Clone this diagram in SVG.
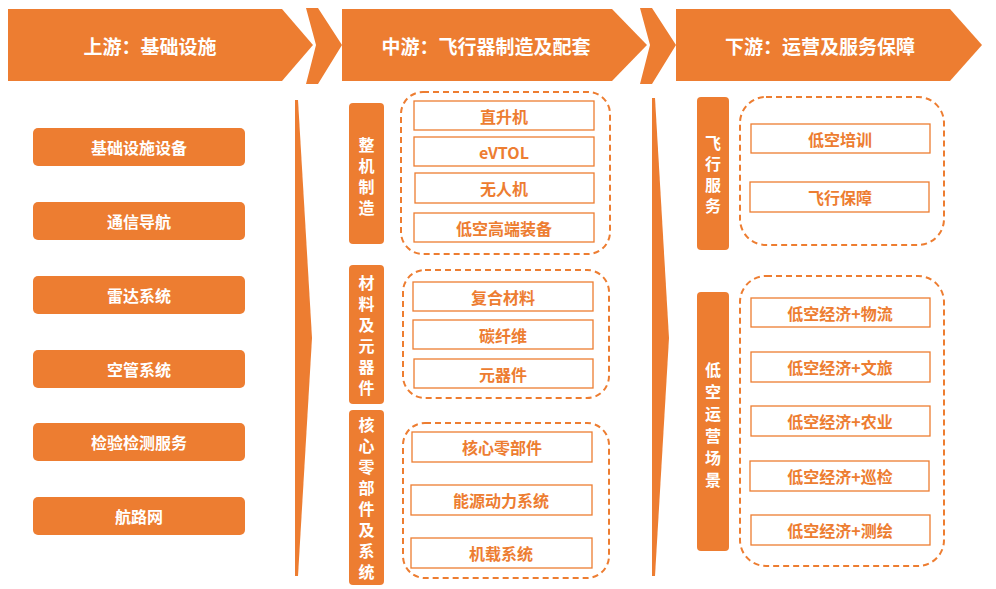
<svg xmlns="http://www.w3.org/2000/svg" width="996" height="589" viewBox="0 0 996 589">
<style>
text{font-family:"Noto Sans CJK SC","Liberation Sans",sans-serif;font-weight:bold;text-anchor:middle;dominant-baseline:central}
.f{fill:#ED7D31}
.hd{fill:#fff;font-size:19px}
.lb{fill:#fff;font-size:16px}
.it{fill:#fff;stroke:#ED7D31;stroke-width:1.3}
.it-t{fill:#ED7D31;font-size:16px}
.dash{fill:none;stroke:#ED7D31;stroke-width:2;stroke-dasharray:6 4}
</style>
<g id="headers">
<polygon class="f" points="8,9 282,9 313,45 282,81 8,81"/>
<text class="hd" x="150" y="45">上游：基础设施</text>
<polygon class="f" points="306,8 318,8 342,45 318,84 306,84 316,45"/>
<polygon class="f" points="342,9 612,9 647,45 612,81 342,81"/>
<text class="hd" x="486" y="45">中游：飞行器制造及配套</text>
<polygon class="f" points="640,8 652,8 676,45 652,84 640,84 650,45"/>
<polygon class="f" points="676,9 950,9 982,45 950,81 676,81"/>
<text class="hd" x="820" y="45">下游：运营及服务保障</text>
</g>
<g id="connectors">
<polygon class="f" points="295,100 298,100 312,338 298,576 295,576"/>
<polygon class="f" points="652,98 655,98 669,338 655,576 652,576"/>
</g>
<g id="upstream">
<g id="u1"><rect class="f" x="33" y="128" width="212" height="38" rx="5"/><text class="lb" x="139" y="147">基础设施设备</text></g>
<g id="u2"><rect class="f" x="33" y="202" width="212" height="38" rx="5"/><text class="lb" x="139" y="221">通信导航</text></g>
<g id="u3"><rect class="f" x="33" y="276" width="212" height="38" rx="5"/><text class="lb" x="139" y="295">雷达系统</text></g>
<g id="u4"><rect class="f" x="33" y="350" width="212" height="38" rx="5"/><text class="lb" x="139" y="369">空管系统</text></g>
<g id="u5"><rect class="f" x="33" y="423" width="212" height="38" rx="5"/><text class="lb" x="139" y="442">检验检测服务</text></g>
<g id="u6"><rect class="f" x="33" y="497" width="212" height="38" rx="5"/><text class="lb" x="139" y="516">航路网</text></g>
</g>
<g id="midstream">
<g id="m-whole">
<rect class="f" x="349" y="103" width="35" height="141" rx="4"/>
<text class="lb"><tspan x="366.5" y="144">整</tspan><tspan x="366.5" y="165">机</tspan><tspan x="366.5" y="186">制</tspan><tspan x="366.5" y="207">造</tspan></text>
<rect class="dash" x="401" y="92" width="209" height="162" rx="22"/>
<rect class="it" x="414" y="101" width="180" height="29"/><text class="it-t" x="504" y="115.5">直升机</text>
<rect class="it" x="414" y="137" width="180" height="29"/><text class="it-t" x="504" y="151.5">eVTOL</text>
<rect class="it" x="415" y="173" width="179" height="30"/><text class="it-t" x="504" y="188">无人机</text>
<rect class="it" x="414" y="213" width="180" height="29"/><text class="it-t" x="504" y="227.5">低空高端装备</text>
</g>
<g id="m-material">
<rect class="f" x="349" y="265" width="35" height="139" rx="4"/>
<text class="lb"><tspan x="366.5" y="282">材</tspan><tspan x="366.5" y="303">料</tspan><tspan x="366.5" y="324">及</tspan><tspan x="366.5" y="345">元</tspan><tspan x="366.5" y="366">器</tspan><tspan x="366.5" y="387">件</tspan></text>
<rect class="dash" x="403" y="270" width="206" height="128" rx="22"/>
<rect class="it" x="413" y="282" width="180" height="29"/><text class="it-t" x="503" y="296.5">复合材料</text>
<rect class="it" x="413" y="320" width="180" height="29"/><text class="it-t" x="503" y="334.5">碳纤维</text>
<rect class="it" x="414" y="359" width="179" height="29"/><text class="it-t" x="503" y="373.5">元器件</text>
</g>
<g id="m-core">
<rect class="f" x="349" y="410" width="35" height="175" rx="4"/>
<text class="lb"><tspan x="366.5" y="424">核</tspan><tspan x="366.5" y="445">心</tspan><tspan x="366.5" y="466">零</tspan><tspan x="366.5" y="487">部</tspan><tspan x="366.5" y="508">件</tspan><tspan x="366.5" y="529">及</tspan><tspan x="366.5" y="550">系</tspan><tspan x="366.5" y="571">统</tspan></text>
<rect class="dash" x="403" y="423" width="206" height="155" rx="22"/>
<rect class="it" x="412" y="432" width="180" height="30"/><text class="it-t" x="502" y="447">核心零部件</text>
<rect class="it" x="411" y="485" width="181" height="30"/><text class="it-t" x="501" y="500">能源动力系统</text>
<rect class="it" x="411" y="538" width="181" height="30"/><text class="it-t" x="501" y="553">机载系统</text>
</g>
</g>
<g id="downstream">
<g id="d-service">
<rect class="f" x="697" y="97" width="32" height="153" rx="4"/>
<text class="lb"><tspan x="713" y="142">飞</tspan><tspan x="713" y="163">行</tspan><tspan x="713" y="184">服</tspan><tspan x="713" y="205">务</tspan></text>
<rect class="dash" x="740" y="97" width="204" height="148" rx="26"/>
<rect class="it" x="751" y="124" width="179" height="29"/><text class="it-t" x="840" y="138.5">低空培训</text>
<rect class="it" x="750" y="182" width="179" height="30"/><text class="it-t" x="840" y="197">飞行保障</text>
</g>
<g id="d-scene">
<rect class="f" x="697" y="292" width="32" height="259" rx="4"/>
<text class="lb"><tspan x="713" y="369">低</tspan><tspan x="713" y="391">空</tspan><tspan x="713" y="413">运</tspan><tspan x="713" y="435">营</tspan><tspan x="713" y="457">场</tspan><tspan x="713" y="479">景</tspan></text>
<rect class="dash" x="740" y="276" width="204" height="290" rx="26"/>
<rect class="it" x="751" y="298" width="179" height="29"/><text class="it-t" x="840" y="312.5">低空经济+物流</text>
<rect class="it" x="751" y="352" width="179" height="30"/><text class="it-t" x="840" y="367">低空经济+文旅</text>
<rect class="it" x="751" y="406" width="179" height="30"/><text class="it-t" x="840" y="421">低空经济+农业</text>
<rect class="it" x="750" y="461" width="179" height="30"/><text class="it-t" x="840" y="476">低空经济+巡检</text>
<rect class="it" x="751" y="515" width="179" height="30"/><text class="it-t" x="840" y="530">低空经济+测绘</text>
</g>
</g>
</svg>
